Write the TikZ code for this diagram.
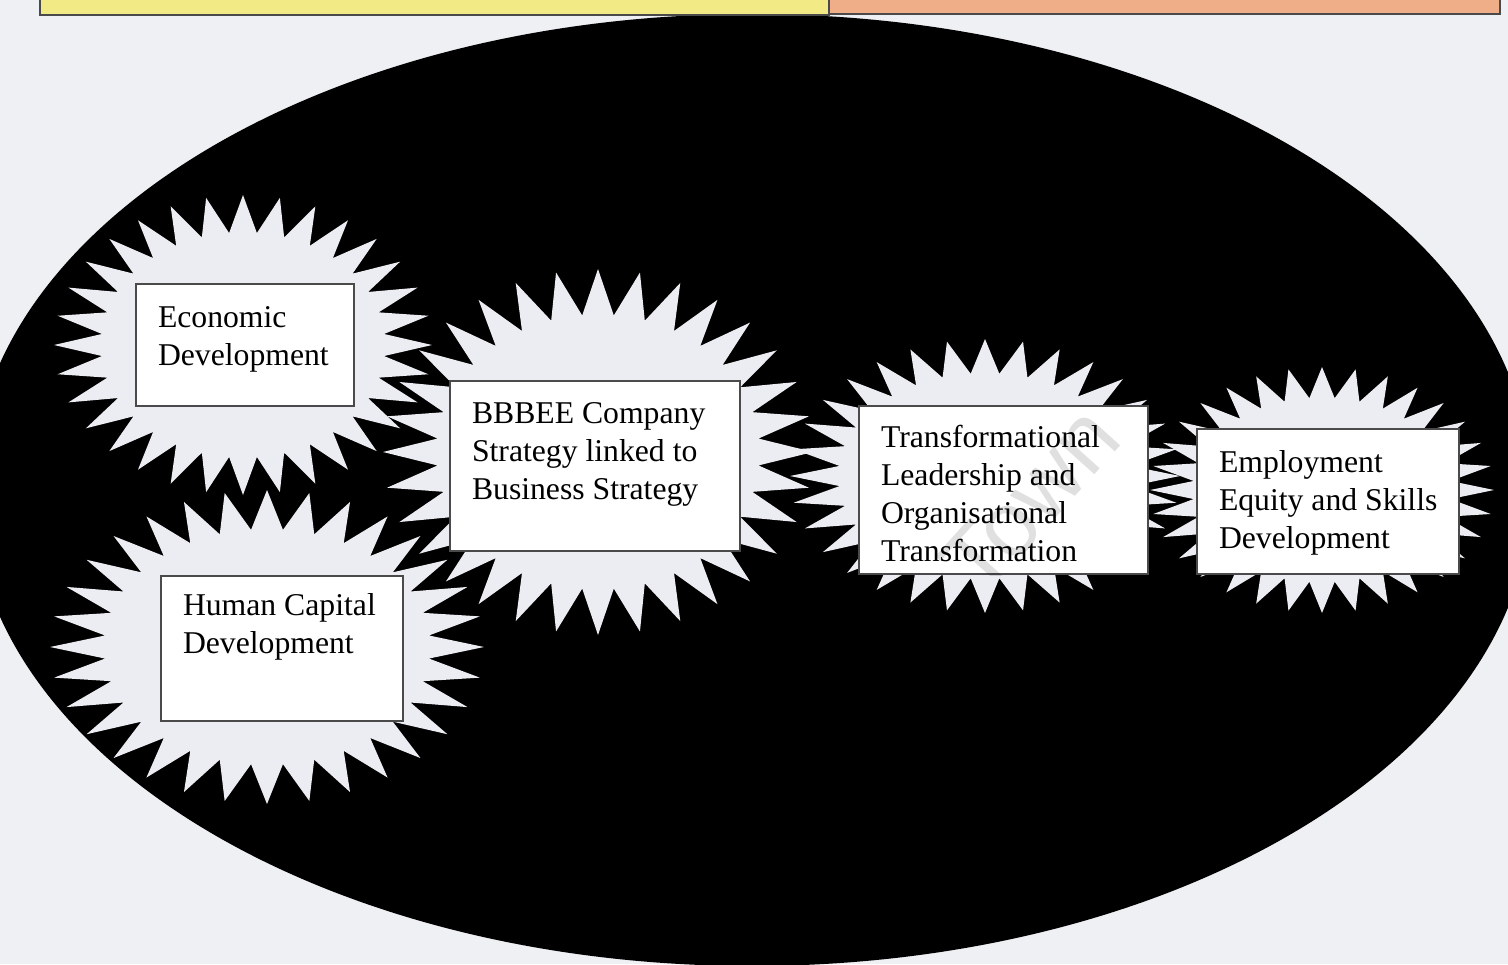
\documentclass[tikz,border=0pt]{standalone}
\usepackage{fontspec}
\setmainfont{Liberation Serif}
\newfontfamily\wmfont{Liberation Sans}
\definecolor{bgc}{HTML}{EFF0F4}
\definecolor{burstc}{HTML}{ECEDF2}
\definecolor{ylw}{HTML}{F2EA85}
\definecolor{slm}{HTML}{EFAE88}
\definecolor{edgec}{HTML}{4A4A4A}
\newcommand{\burstshape}[4]{%
  \fill[burstc] plot[variable=\t, domain=0:63, samples=64]
    ({#1+#3*(1-0.25*mod(round(\t),2))*cos(90+\t*5.625)},
     {#2-#4*(1-0.25*mod(round(\t),2))*sin(90+\t*5.625)}) -- cycle;}
\tikzset{
  rbox/.style={draw=edgec, line width=1pt, fill=white, inner sep=0pt, anchor=north west, align=left},
  topbox/.style={draw=edgec, line width=1pt}
}
\newcommand{\btext}[4]{\parbox[c][#2][t]{#1}{\raggedright\leftskip=11pt\fontsize{15.85}{19}\selectfont\vspace*{#3}\par #4}}
\begin{document}
\begin{tikzpicture}[x=0.5pt,y=-0.5pt]
\useasboundingbox (0,0) rectangle (1508,964);
\clip (0,0) rectangle (1508,964);
\fill[bgc] (0,0) rectangle (1508,964);
% big ellipse
\fill[black] (752,490) ellipse [x radius=390pt, y radius=238pt];
% top boxes
\fill[ylw, topbox] (40,-10) rectangle (829,15);
\fill[slm, topbox] (829,-10) rectangle (1500,14);
% starbursts
\burstshape{243}{345}{189}{150}
\burstshape{267}{647}{217}{157}
\burstshape{598}{452}{215}{183}
\burstshape{985}{476}{195}{137}
\burstshape{1322}{490}{172}{123}
% boxes
\node[rbox] (econ) at (135,283) {\btext{109pt}{61pt}{11.5pt}{Economic\\Development}};
\node[rbox] (human) at (160,575) {\btext{121pt}{72.5pt}{8.5pt}{Human Capital\\Development}};
\node[rbox] (bbbee) at (449,380) {\btext{145pt}{85pt}{11pt}{BBBEE Company\\Strategy linked to\\Business Strategy}};
\node[rbox] (transf) at (858,405) {\btext{144.5pt}{84pt}{9.5pt}{Transformational\\Leadership and\\Organisational\\Transformation}};
\node[rbox] (employ) at (1196,428) {\btext{131pt}{72.5pt}{10.5pt}{Employment\\Equity and Skills\\Development}};
% faint watermark
\begin{scope}
\clip (transf.north west) rectangle (transf.south east);
\node[rotate=48, text=black, text opacity=0.12, font=\wmfont\fontsize{46}{46}\selectfont] (wmark) at (1030,500) {Town};
\end{scope}
\end{tikzpicture}
\end{document}
